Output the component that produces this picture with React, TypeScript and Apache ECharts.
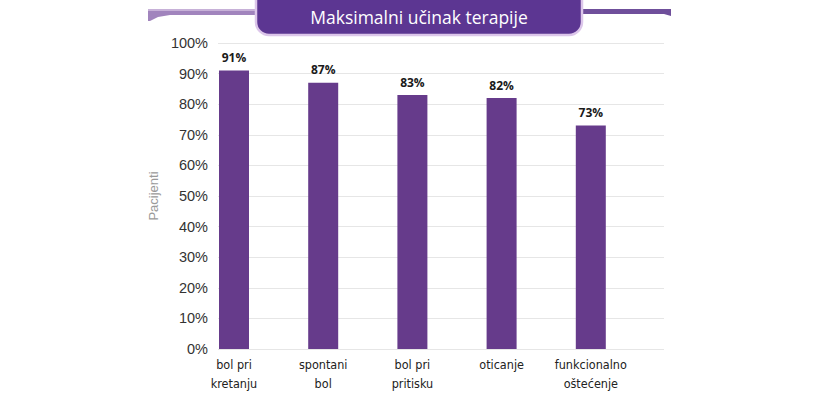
import React, { useEffect, useRef } from "react";
import * as echarts from "echarts";

const categories = ["bol pri\nkretanju", "spontani\nbol", "bol pri\npritisku", "oticanje", "funkcionalno\noštećenje"];
const values = [91, 87, 83, 82, 73];
const yTicks = [0, 10, 20, 30, 40, 50, 60, 70, 80, 90, 100];
const titleText = "Maksimalni učinak terapije";
const yAxisName = "Pacijenti";

export default function App() {
  const ref = useRef<HTMLDivElement>(null);
  useEffect(() => {
    if (!ref.current) return;
    const chart = echarts.init(ref.current, undefined, { renderer: "svg" });
    const H = 397;
    const top = 43;
    const bottom = H - 349;
    chart.setOption({
      animation: false,
      grid: [
        { left: 218, right: 821 - 664, top, bottom },
        { left: 189.4, width: 446, top, bottom },
      ],
      xAxis: [
        { type: "category", gridIndex: 0, data: categories, show: false },
        {
          type: "category",
          gridIndex: 1,
          data: categories,
          axisLine: { show: false },
          axisTick: { show: false },
          axisLabel: {
            color: "#222",
            fontFamily: "DejaVu Sans Condensed, Liberation Sans Narrow, sans-serif",
            fontSize: 12.5,
            lineHeight: 19,
            margin: 6,
            interval: 0,
          },
        },
      ],
      yAxis: [
        {
          type: "value",
          gridIndex: 0,
          min: yTicks[0],
          max: yTicks[yTicks.length - 1],
          interval: 10,
          axisLine: { show: false },
          axisTick: { show: false },
          splitLine: { lineStyle: { color: "#e6e6e6", width: 1 } },
          axisLabel: {
            formatter: "{value}%",
            color: "#333",
            fontFamily: "Liberation Sans, Arial, sans-serif",
            fontSize: 14.5,
            margin: 10,
          },
          name: yAxisName,
          nameLocation: "middle",
          nameRotate: 90,
          nameGap: 51,
          nameTextStyle: {
            color: "#9a9a9a",
            fontFamily: "Liberation Sans, Arial, sans-serif",
            fontSize: 13,
          },
        },
        {
          type: "value",
          gridIndex: 1,
          min: 0,
          max: 100,
          interval: 10,
          show: false,
          splitLine: { show: false },
        },
      ],
      series: [
        {
          type: "bar",
          xAxisIndex: 1,
          yAxisIndex: 1,
          data: values,
          barWidth: 30,
          itemStyle: { color: "#663b8b" },
          label: {
            show: true,
            position: "top",
            distance: 7,
            formatter: "{c}%",
            color: "#1a1a1a",
            fontWeight: "bold",
            fontFamily: "Open Sans, Liberation Sans, sans-serif",
            fontSize: 12,
          },
        },
      ],
      graphic: [
        {
          type: "polygon",
          shape: {
            points: [
              [148, 9], [256, 9], [256, 15], [170, 15], [158, 17], [150, 21], [148, 21],
            ],
          },
          style: { fill: "#a184bd" },
        },
        {
          type: "rect",
          shape: { x: 148, y: 9, width: 108, height: 2 },
          style: { fill: "#c7b1d8" },
        },
        {
          type: "polygon",
          shape: {
            points: [[580, 9], [671, 9], [671, 16], [664, 14], [580, 14]],
          },
          style: { fill: "#6f4f9b" },
        },
        {
          type: "rect",
          shape: { x: 256, y: -14, width: 326, height: 49, r: 13 },
          style: { fill: "#5c3692", stroke: "#dcc6ea", lineWidth: 2.5 },
        },
        {
          type: "text",
          x: 419,
          y: 17,
          style: {
            text: titleText,
            fill: "#ffffff",
            fontFamily: "Open Sans, Liberation Sans, sans-serif",
            fontSize: 17.5,
            align: "center",
            verticalAlign: "middle",
          },
        },
      ],
    });
    return () => chart.dispose();
  }, []);
  return <div ref={ref} style={{ width: 821, height: 397, position: "absolute", left: 0, top: 0, background: "#fff" }} />;
}
